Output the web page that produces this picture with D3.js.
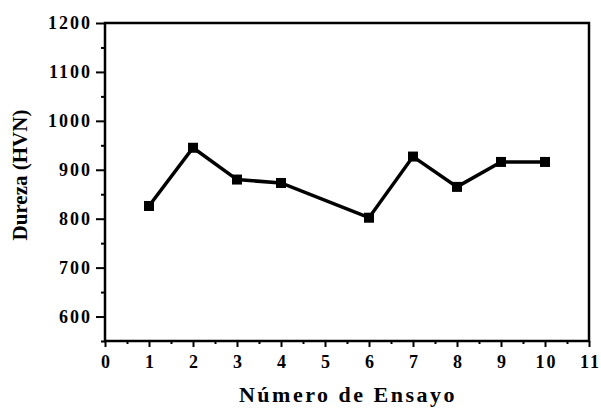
<!DOCTYPE html>
<html>
<head>
<meta charset="utf-8">
<script src="https://cdn.jsdelivr.net/npm/d3@7"></script>
<style>
  body { margin: 0; background: #fff; }
  text { font-family: "Liberation Serif", "Times New Roman", serif; font-weight: bold; fill: #000; }
</style>
</head>
<body>
<script>
// datos de dureza por ensayo
const ensayos = [1, 2, 3, 4, 6, 7, 8, 9, 10];
const dureza = [826, 945, 880, 873, 802, 927, 865, 916, 916];
const xTicks = [0, 1, 2, 3, 4, 5, 6, 7, 8, 9, 10, 11];
const yTicks = [600, 700, 800, 900, 1000, 1100, 1200];

const W = 601, H = 408;
const margin = {top: 23, right: 12, bottom: 67, left: 105};
const width = W - margin.left - margin.right,
      height = H - margin.top - margin.bottom;

const svg = d3.select("body").append("svg")
    .attr("width", W)
    .attr("height", H);
const g = svg.append("g")
    .attr("transform", "translate(" + margin.left + "," + margin.top + ")");

const x = d3.scaleLinear().domain([0, 11]).range([0, width]);
const y = d3.scaleLinear().domain([550, 1200]).range([height, 0]);

// minor ticks
g.append("g")
    .attr("transform", "translate(0," + height + ")")
    .call(d3.axisBottom(x).tickValues(d3.range(0.5, 11, 1)).tickSize(3).tickFormat(""))
    .call(a => a.select(".domain").remove())
    .selectAll("line").attr("stroke-width", 2);
g.append("g")
    .call(d3.axisLeft(y).tickValues(d3.range(550, 1200, 100)).tickSize(4).tickFormat(""))
    .call(a => a.select(".domain").remove())
    .selectAll("line").attr("stroke-width", 2);

// major ticks
const xa = g.append("g")
    .attr("transform", "translate(0," + height + ")")
    .call(d3.axisBottom(x).tickValues(xTicks).tickSize(6).tickPadding(8).tickFormat(d3.format("d")));
xa.select(".domain").remove();
xa.selectAll("line").attr("stroke-width", 2);
xa.selectAll("text")
    .style("font-size", "18px")
    .attr("font-family", null)
    .attr("letter-spacing", "2px")
    .attr("dx", "1px");

const ya = g.append("g")
    .call(d3.axisLeft(y).tickValues(yTicks).tickSize(9).tickPadding(4).tickFormat(d3.format("d")));
ya.select(".domain").remove();
ya.selectAll("line").attr("stroke-width", 2);
ya.selectAll("text")
    .style("font-size", "18px")
    .attr("font-family", null)
    .attr("letter-spacing", "2px");

// marco
g.append("rect")
    .attr("x", 0).attr("y", 0)
    .attr("width", width).attr("height", height)
    .attr("fill", "none")
    .attr("stroke", "#000")
    .attr("stroke-width", 2.5);

const pts = ensayos.map((e, i) => ({e: e, v: dureza[i]}));

g.append("path")
    .datum(pts)
    .attr("fill", "none")
    .attr("stroke", "#000")
    .attr("stroke-width", 3.5)
    .attr("d", d3.line().x(d => x(d.e)).y(d => y(d.v)));

g.selectAll(".pt")
    .data(pts)
    .enter()
    .append("rect")
    .attr("class", "pt")
    .attr("x", d => x(d.e) - 5)
    .attr("y", d => y(d.v) - 5)
    .attr("width", 10)
    .attr("height", 10)
    .attr("fill", "#000");

// titulos
svg.append("text")
    .attr("x", 348)
    .attr("y", 402)
    .attr("text-anchor", "middle")
    .attr("letter-spacing", "2.5px")
    .style("font-size", "22px")
    .text("Número de Ensayo");

svg.append("text")
    .attr("transform", "translate(27,175) rotate(-90)")
    .attr("text-anchor", "middle")
    .style("font-size", "21px")
    .text("Dureza (HVN)");
</script>
</body>
</html>
